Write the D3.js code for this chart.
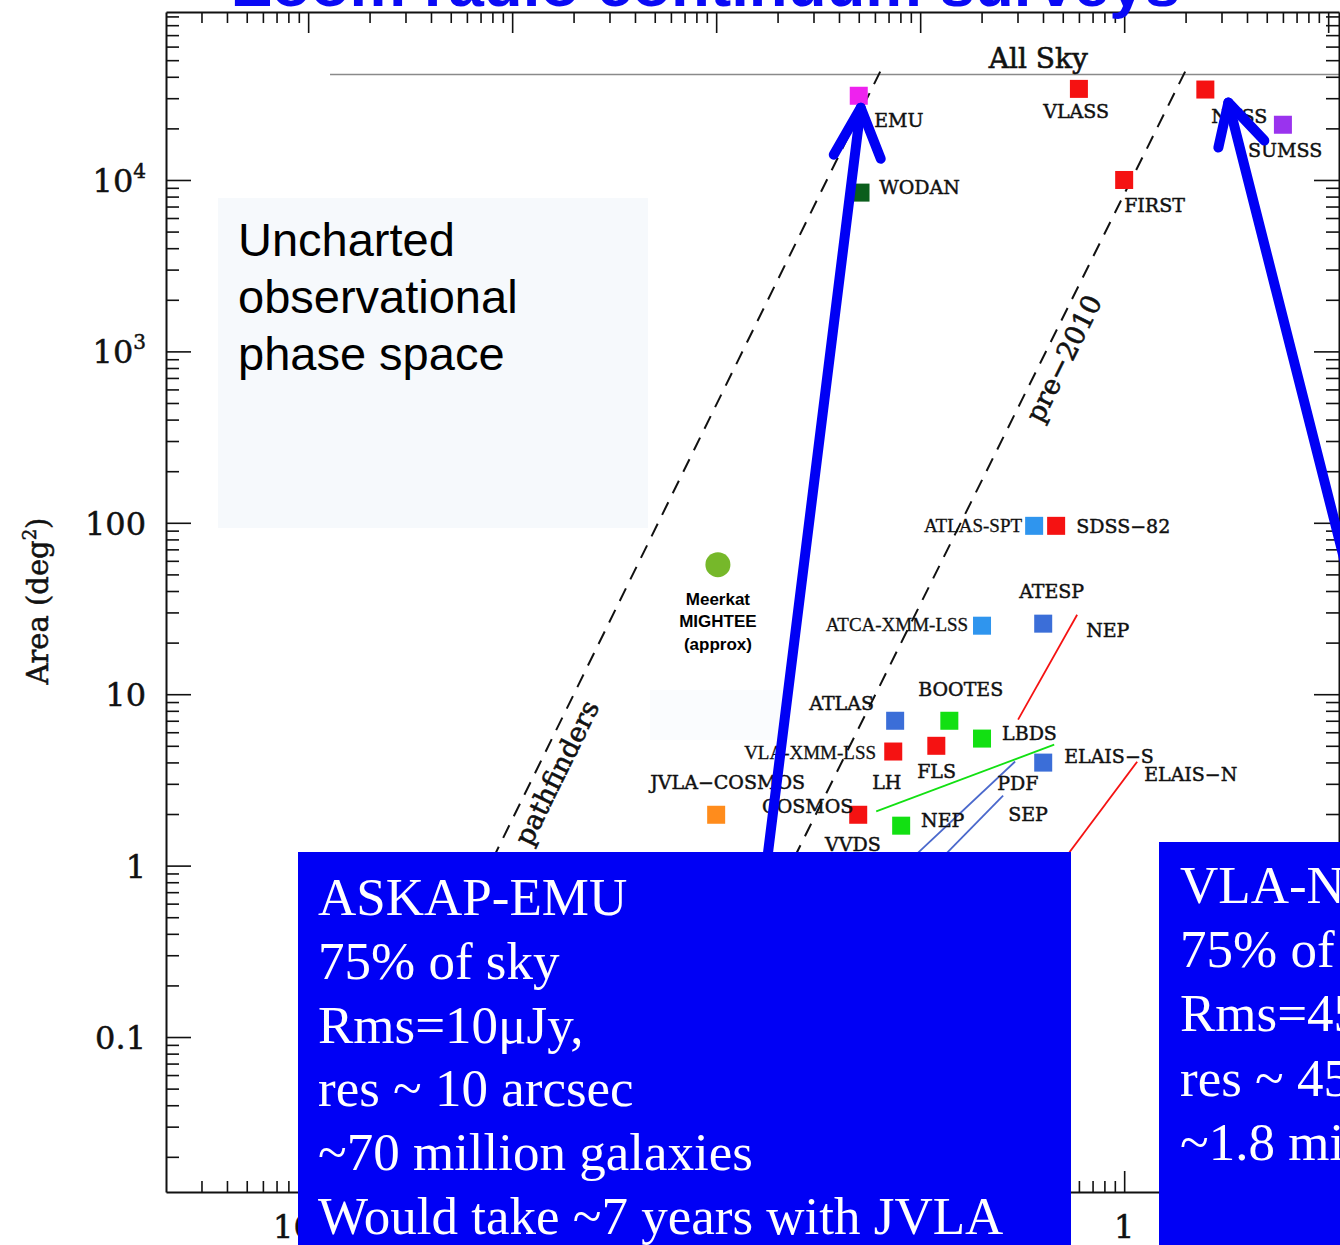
<!doctype html>
<html>
  <head>
    <meta charset="utf-8">
    <title>Radio continuum surveys</title>
    <script src="https://cdnjs.cloudflare.com/ajax/libs/d3/7.8.5/d3.min.js"></script>
    <style>
      body { margin: 0; background: #fff; }
      svg { display: block; }
      .axis path, .axis line { stroke: #111; }
      .axis path { stroke-width: 2; }
      .axis line { stroke-width: 1.6; }
      .lbl { font-family: "DejaVu Serif", serif; font-size: 19px; fill: #111; stroke: #111; stroke-width: 0.45; }
      .lbl.times { font-family: "Liberation Serif", serif; font-size: 19px; stroke-width: 0.3; }
      .tick-lbl { font-family: "DejaVu Serif", serif; font-size: 32px; fill: #111; stroke: #111; stroke-width: 0.5; }
      .box-txt { font-family: "Liberation Serif", "Times New Roman", serif; font-size: 53px; fill: #fff; }
    </style>
  </head>
  <body>
    <div id="chart"></div>
    <script>

      // surveys: 5 sigma flux limit (mJy) against area (deg^2)
      const surveyNames = ["EMU", "VLASS", "NVSS", "SUMSS", "WODAN", "FIRST", "ATLAS-SPT", "SDSS-82",
        "ATCA-XMM-LSS", "ATESP", "ATLAS", "BOOTES", "LBDS", "VLA-XMM-LSS", "FLS", "ELAIS-S",
        "JVLA-COSMOS", "COSMOS", "NEP"];
      const surveyFlux = [0.05, 0.60, 2.5, 6.0, 0.051, 1.0, 0.362, 0.464,
        0.201, 0.401, 0.0754, 0.139, 0.201, 0.0738, 0.12, 0.401,
        0.01, 0.0497, 0.0807];
      const surveyArea = [31000, 34000, 33700, 21000, 8440, 10000, 96, 96,
        25.1, 25.8, 7.0, 7.0, 5.51, 4.63, 5.0, 3.99,
        1.98, 1.98, 1.71];
      const surveyTelescope = ["ASKAP", "VLA", "VLA", "MOST", "Apertif", "VLA", "ATCA-new", "VLA",
        "ATCA-new", "ATCA", "ATCA", "WSRT", "WSRT", "VLA", "VLA", "ATCA",
        "JVLA", "VLA", "WSRT"];

      // MeerKAT MIGHTEE (approx)
      const mighteeFlux = [0.0102];
      const mighteeArea = [57];

      // deep fields shown as lines (flux, area) -> (flux, area)
      const fieldLineTelescope = ["VLA", "VLA", "WSRT", "ATCA", "ATCA"];
      const fieldLineStart = [[0.588, 29.1], [1.158, 4.04], [0.0609, 2.07], [0.292, 4.05], [0.255, 2.56]];
      const fieldLineEnd = [[0.302, 7.11], [0.362, 0.634], [0.454, 5.08], [0.0844, 1.01], [0.1185, 1.01]];

      // constant survey speed lines
      const speedLineNames = ["pathfinders", "pre\u22122010"];
      const speedLineStart = [[0.0637, 42900], [1.99, 42900]];
      const speedLineEnd = [[0.000697, 0.775], [0.0231, 1.0]];
      const speedLineLabelAt = [[0.00182, 3.30], [0.556, 860]];

      const allSkyArea = 41253;
      const allSkyFrom = 0.000128;

      // point labels (flux, area of the label's baseline start)
      const labelText = ["EMU", "VLASS", "NVSS", "SUMSS", "WODAN", "FIRST", "ATLAS-SPT", "SDSS\u221282",
        "ATESP", "NEP", "ATCA-XMM-LSS", "BOOTES", "ATLAS", "LBDS", "VLA-XMM-LSS", "ELAIS\u2212S",
        "ELAIS\u2212N", "FLS", "LH", "PDF", "JVLA\u2212COSMOS", "COSMOS", "SEP", "NEP", "VVDS"];
      const labelFlux = [0.0595, 0.401, 2.67, 4.05, 0.063, 1.0, 0.316, 0.582,
        0.3056, 0.651, 0.172, 0.0978, 0.0286, 0.252, 0.0608, 0.508,
        1.253, 0.0967, 0.0582, 0.2384, 0.00475, 0.0168, 0.27, 0.101, 0.0342];
      const labelArea = [20500, 23100, 21600, 13700, 8330, 6540, 88.9, 87.7,
        36.6, 21.7, 23.5, 9.81, 8.13, 5.43, 4.21, 3.99,
        3.13, 3.26, 2.81, 2.78, 2.81, 2.04, 1.83, 1.69, 1.21];

      // axis ticks (only the x labels not hidden by the boxes)
      const yTickValues = [0.1, 1, 10, 100, 1000, 10000];
      const yTickLabels = ["0.1", "1", "10", "100", "10^3", "10^4"];
      const xTickValues = [0.0001, 1];
      const xTickLabels = ["10^\u22124", "1"];

      // the two text boxes
      const emuBoxLines = ["ASKAP-EMU", "75% of sky", "Rms=10\u03bcJy,", "res ~ 10 arcsec",
        "~70 million galaxies", "Would take ~7 years with JVLA"];
      const nvssBoxLines = ["VLA-NVSS", "75% of sky", "Rms=450\u03bcJy", "res ~ 45 arcsec",
        "~1.8 million galaxies"];

      const width = 1340, height = 1245;

      const svg = d3.select('#chart')
        .append('svg')
        .attr('width', width)
        .attr('height', height);

      svg.append('rect').attr('width', width).attr('height', height).attr('fill', '#fff');

      const x = d3.scaleLog().domain([2.01e-5, 11.3]).range([166, 1339]);
      const y = d3.scaleLog().domain([95500, 0.01247]).range([12, 1192]);

      const color = d3.scaleOrdinal()
        .domain(["ASKAP", "VLA", "MOST", "Apertif", "ATCA-new", "ATCA", "WSRT", "JVLA"])
        .range(["#ee22ee", "#f51212", "#9a33ee", "#0b5e1c", "#2f95ee", "#3b6ed8", "#12e012", "#ff8c1c"]);

      // pale panels behind the text
      svg.append('rect')
        .attr('x', 218).attr('y', 198).attr('width', 430).attr('height', 330)
        .attr('fill', '#f6f9fc');
      svg.append('rect')
        .attr('x', 650).attr('y', 690).attr('width', 140).attr('height', 50)
        .attr('fill', '#fafcfe');

      svg.append('text')
        .attr('x', 238)
        .style('font-family', '"Liberation Sans", Arial, sans-serif')
        .style('font-size', '47px')
        .attr('fill', '#000')
        .selectAll('tspan')
        .data(["Uncharted", "observational", "phase space"])
        .join('tspan')
        .attr('x', 238)
        .attr('y', (d, i) => 256 + i * 57)
        .text(d => d);

      const line = d3.line().x(d => x(d[0])).y(d => y(d[1]));

      // all sky
      svg.append('path')
        .attr('d', line([[allSkyFrom, allSkyArea], [x.domain()[1], allSkyArea]]))
        .attr('stroke', '#8a8a8a').attr('stroke-width', 1.6).attr('fill', 'none');
      svg.append('text')
        .attr('class', 'lbl')
        .attr('x', x(0.379)).attr('y', y(allSkyArea) - 6)
        .attr('text-anchor', 'middle')
        .style('font-size', '28px')
        .style('stroke-width', '0.6')
        .text('All Sky');

      // survey speed lines
      speedLineNames.forEach((name, i) => {
        svg.append('path')
          .attr('d', line([speedLineStart[i], speedLineEnd[i]]))
          .attr('stroke', '#111').attr('stroke-width', 2)
          .attr('stroke-dasharray', '14,10').attr('fill', 'none');
        const p0 = [x(speedLineStart[i][0]), y(speedLineStart[i][1])];
        const p1 = [x(speedLineEnd[i][0]), y(speedLineEnd[i][1])];
        const ang = Math.atan2(p0[1] - p1[1], p0[0] - p1[0]) * 180 / Math.PI;
        const lx = x(speedLineLabelAt[i][0]), ly = y(speedLineLabelAt[i][1]);
        svg.append('text')
          .attr('class', 'lbl')
          .style('font-size', '27px')
          .style('stroke-width', '0.6')
          .attr('text-anchor', 'middle')
          .attr('transform', `translate(${lx},${ly}) rotate(${ang})`)
          .text(name);
      });

      // deep field lines
      svg.selectAll('.field-line')
        .data(fieldLineStart)
        .join('path')
        .attr('class', 'field-line')
        .attr('d', (d, i) => line([d, fieldLineEnd[i]]))
        .attr('stroke', (d, i) => fieldLineTelescope[i] == 'ATCA' ? '#4a68cc' : color(fieldLineTelescope[i]))
        .attr('stroke-width', 1.8)
        .attr('fill', 'none');

      // survey squares
      const sq = 18;
      svg.selectAll('.survey')
        .data(surveyNames)
        .join('rect')
        .attr('class', 'survey')
        .attr('x', (d, i) => x(surveyFlux[i]) - sq / 2)
        .attr('y', (d, i) => y(surveyArea[i]) - sq / 2)
        .attr('width', sq)
        .attr('height', sq)
        .attr('fill', (d, i) => color(surveyTelescope[i]));

      // mightee
      svg.selectAll('.mightee')
        .data(mighteeFlux)
        .join('circle')
        .attr('class', 'mightee')
        .attr('cx', d => x(d))
        .attr('cy', (d, i) => y(mighteeArea[i]))
        .attr('r', 12.5)
        .attr('fill', '#76b82a');

      svg.append('text')
        .style('font-family', '"Liberation Sans", Arial, sans-serif')
        .style('font-weight', 'bold')
        .style('font-size', '17px')
        .attr('text-anchor', 'middle')
        .selectAll('tspan')
        .data(["Meerkat", "MIGHTEE", "(approx)"])
        .join('tspan')
        .attr('x', x(mighteeFlux[0]))
        .attr('y', (d, i) => y(mighteeArea[0]) + 40 + i * 22.5)
        .text(d => d);

      // labels
      const timesLabels = ["ATLAS-SPT", "ATCA-XMM-LSS", "VLA-XMM-LSS"];
      svg.selectAll('.pt-lbl')
        .data(labelText)
        .join('text')
        .attr('class', d => timesLabels.includes(d) ? 'lbl times pt-lbl' : 'lbl pt-lbl')
        .attr('x', (d, i) => x(labelFlux[i]))
        .attr('y', (d, i) => y(labelArea[i]))
        .attr('text-anchor', d => timesLabels.includes(d) ? 'end' : 'start')
        .text(d => d);

      // axes: major and minor ticks on all four sides
      const isMajor = v => Math.abs(Math.log10(v) - Math.round(Math.log10(v))) < 1e-6;
      const yMinor = y.ticks().filter(v => !isMajor(v));
      const xMajor = x.ticks().filter(isMajor);
      const xMinor = x.ticks().filter(v => !isMajor(v));

      function drawAxis(axisFn, scale, pos, majors, minors, bigLen, smallLen) {
        svg.append('g').attr('class', 'axis').attr('transform', pos)
          .call(axisFn(scale).tickValues(majors).tickSizeInner(-bigLen).tickSizeOuter(0).tickFormat(''));
        const gMin = svg.append('g').attr('class', 'axis').attr('transform', pos)
          .call(axisFn(scale).tickValues(minors).tickSizeInner(-smallLen).tickSizeOuter(0).tickFormat(''));
        gMin.select('.domain').remove();
      }
      drawAxis(d3.axisLeft, y, 'translate(166,0)', yTickValues, yMinor, 25, 13);
      drawAxis(d3.axisRight, y, 'translate(1339,0)', yTickValues, yMinor, 25, 13);
      drawAxis(d3.axisTop, x, 'translate(0,12)', xMajor, xMinor, 21, 11);
      drawAxis(d3.axisBottom, x, 'translate(0,1192)', xMajor, xMinor, 21, 11);

      function putLabel(t, label) {
        const parts = label.split('^');
        t.append('tspan').text(parts[0]);
        if (parts[1]) {
          t.append('tspan').attr('dy', -14).style('font-size', '20px').text(parts[1]);
        }
      }
      yTickValues.forEach((v, i) => {
        const t = svg.append('text').attr('class', 'tick-lbl')
          .attr('x', 146).attr('y', y(v) + 12).attr('text-anchor', 'end');
        putLabel(t, yTickLabels[i]);
      });
      xTickValues.forEach((v, i) => {
        const t = svg.append('text').attr('class', 'tick-lbl')
          .attr('x', x(v)).attr('y', 1238).attr('text-anchor', 'middle');
        putLabel(t, xTickLabels[i]);
      });

      svg.append('text')
        .attr('class', 'tick-lbl')
        .style('font-size', '29px')
        .attr('text-anchor', 'middle')
        .attr('transform', 'translate(48,601) rotate(-90)')
        .call(t => {
          t.append('tspan').text('Area (deg');
          t.append('tspan').attr('dy', -12).style('font-size', '18px').text('2');
          t.append('tspan').attr('dy', 12).text(')');
        });

      // blue info boxes
      svg.append('rect').attr('x', 298).attr('y', 852).attr('width', 773).attr('height', 400).attr('fill', '#0000f5');
      svg.append('rect').attr('x', 1159).attr('y', 842).attr('width', 200).attr('height', 410).attr('fill', '#0000f5');

      svg.append('text').attr('class', 'box-txt')
        .selectAll('tspan').data(emuBoxLines).join('tspan')
        .attr('x', 318).attr('y', (d, i) => 915 + i * 63.8).text(d => d);
      svg.append('text').attr('class', 'box-txt')
        .selectAll('tspan').data(nvssBoxLines).join('tspan')
        .attr('x', 1180).attr('y', (d, i) => 903 + i * 64.2).text(d => d);

      // arrows from boxes to EMU and NVSS
      function arrow(tail, tip, armA, armB) {
        svg.append('line')
          .attr('x1', tail[0]).attr('y1', tail[1]).attr('x2', tip[0]).attr('y2', tip[1])
          .attr('stroke', '#0000f5').attr('stroke-width', 10).attr('stroke-linecap', 'round');
        svg.append('path')
          .attr('d', d3.line()([armA, tip, armB]))
          .attr('stroke', '#0000f5').attr('stroke-width', 10).attr('fill', 'none')
          .attr('stroke-linecap', 'round').attr('stroke-linejoin', 'round');
      }
      const emuI = surveyNames.indexOf('EMU'), nvssI = surveyNames.indexOf('NVSS');
      const emuTip = [x(surveyFlux[emuI]) + 2, y(surveyArea[emuI]) + 12];
      arrow([765, 877], emuTip, [emuTip[0] - 27, emuTip[1] + 47], [emuTip[0] + 20, emuTip[1] + 51]);
      const nvssTip = [x(surveyFlux[nvssI]) + 23, y(surveyArea[nvssI]) + 13];
      arrow([1352, 590], nvssTip, [nvssTip[0] - 10, nvssTip[1] + 45], [nvssTip[0] + 36, nvssTip[1] + 38]);

      // title, cut off at the top
      svg.append('text')
        .attr('x', 233).attr('y', 6)
        .attr('textLength', 947).attr('lengthAdjust', 'spacingAndGlyphs')
        .style('font-family', '"Liberation Sans", Arial, sans-serif')
        .style('font-weight', 'bold')
        .style('font-size', '62px')
        .attr('fill', '#0a0af5')
        .text('Zoom radio continuum surveys');

    </script>
  </body>
</html>
